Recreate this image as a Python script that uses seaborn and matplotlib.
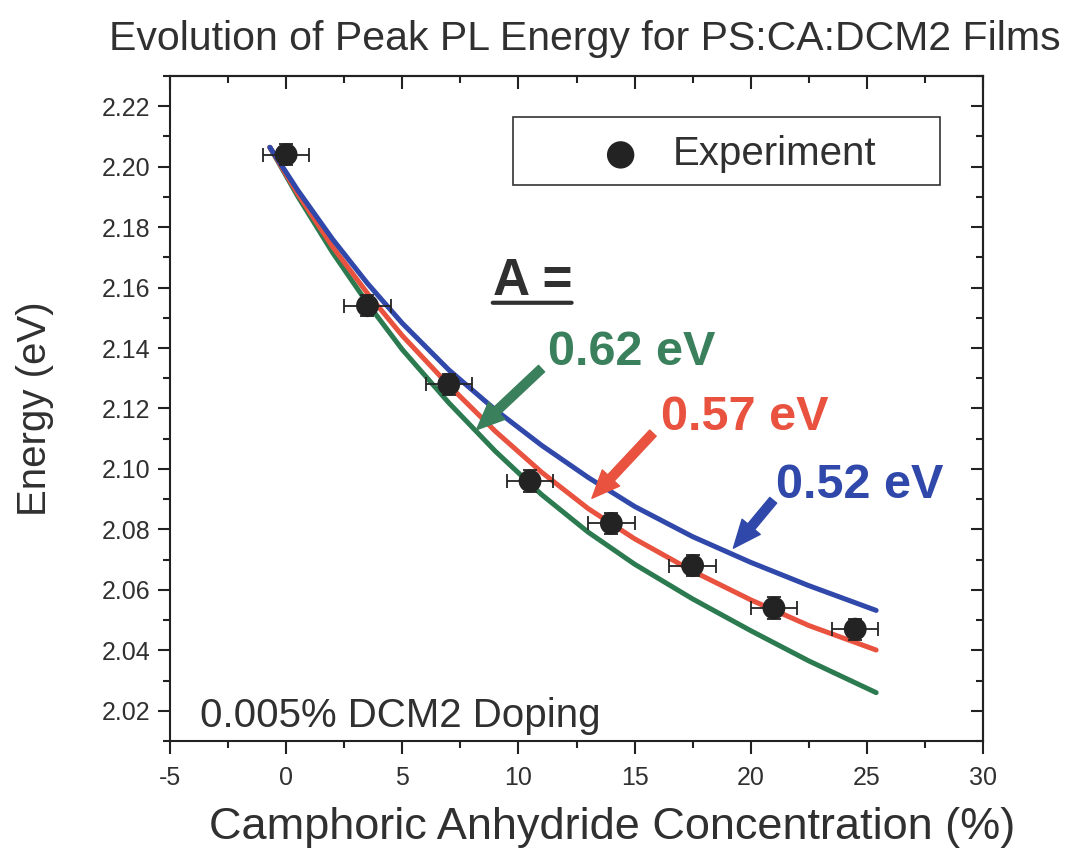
import numpy as np
import pandas as pd
import matplotlib
matplotlib.use("Agg")
import matplotlib.pyplot as plt
import seaborn as sns
from matplotlib.ticker import MultipleLocator, FormatStrFormatter
from matplotlib.patches import Rectangle

# ---------------- data ----------------
conc = [0.0, 3.5, 7.0, 10.5, 14.0, 17.5, 21.0, 24.5]
energy = [2.204, 2.154, 2.128, 2.096, 2.082, 2.068, 2.054, 2.047]
conc_err = [1.0, 1.0, 1.0, 1.0, 1.0, 1.0, 1.0, 1.0]
energy_err = [0.0035, 0.0035, 0.0035, 0.0035, 0.0035, 0.0035, 0.0035, 0.0035]

curve_x = [-0.7, 0.5, 2.0, 3.5, 5.0, 7.0, 9.0, 11.0, 13.0, 15.0, 17.5, 20.0, 22.5, 25.4]
blue_y = [2.2064, 2.1922, 2.1760, 2.1614, 2.1482, 2.1328, 2.1196, 2.1078, 2.0972,
          2.0876, 2.0776, 2.0691, 2.0614, 2.0532]
red_y = [2.2064, 2.1910, 2.1735, 2.1581, 2.1441, 2.1277, 2.1125, 2.0989, 2.0869,
         2.0769, 2.0662, 2.0567, 2.0482, 2.0401]
green_y = [2.2064, 2.1902, 2.1716, 2.1548, 2.1395, 2.1219, 2.1059, 2.0915, 2.0791,
           2.0685, 2.0570, 2.0465, 2.0365, 2.0260]

fit_labels = ["0.62 eV", "0.57 eV", "0.52 eV"]
x_ticks = [-5, 0, 5, 10, 15, 20, 25, 30]
y_ticks = [2.02, 2.04, 2.06, 2.08, 2.10, 2.12, 2.14, 2.16, 2.18, 2.20, 2.22]

C_BLUE = "#2F48AA"
C_RED = "#E8523F"
C_GREEN = "#2C7A50"
C_GREEN_TXT = "#3A805C"
C_PT = "#232323"
C_TXT = "#303030"

# ---------------- style ----------------
sns.set_theme(style="ticks")
plt.rcParams["font.family"] = ["Liberation Sans", "DejaVu Sans"]
plt.rcParams["axes.unicode_minus"] = False
plt.rcParams["axes.linewidth"] = 1.5

fig = plt.figure(figsize=(10.67, 8.52), dpi=100)
ax = fig.add_axes([170 / 1067, 1 - 741 / 852, 813 / 1067, 665 / 852])

curves = pd.concat([
    pd.DataFrame({"x": curve_x, "y": green_y, "A": fit_labels[0]}),
    pd.DataFrame({"x": curve_x, "y": red_y, "A": fit_labels[1]}),
    pd.DataFrame({"x": curve_x, "y": blue_y, "A": fit_labels[2]}),
])
sns.lineplot(data=curves, x="x", y="y", hue="A", estimator=None, sort=False,
             palette={fit_labels[0]: C_GREEN, fit_labels[1]: C_RED, fit_labels[2]: C_BLUE},
             linewidth=3.6, legend=False, ax=ax, zorder=2)

ax.errorbar(conc, energy, xerr=conc_err, yerr=energy_err, fmt="none",
            ecolor=C_PT, elinewidth=1.3, capsize=5, capthick=1.3, zorder=3)
pts = pd.DataFrame({"conc": conc, "energy": energy})
sns.scatterplot(data=pts, x="conc", y="energy", s=270, color=C_PT, edgecolor="none",
                label="Experiment", ax=ax, zorder=4, legend=True)

# ---------------- axes ----------------
ax.set_xlim(-5, 30)
ax.set_ylim(2.01, 2.23)
ax.set_xticks(x_ticks)
ax.set_yticks(y_ticks)
ax.yaxis.set_major_formatter(FormatStrFormatter("%.2f"))
ax.xaxis.set_minor_locator(MultipleLocator(2.5))
ax.yaxis.set_minor_locator(MultipleLocator(0.01))
ax.tick_params(which="major", direction="out", length=9, width=1.5, labelsize=18,
               color="#222222", labelcolor=C_TXT)
ax.tick_params(axis="y", which="major", pad=5)
ax.tick_params(axis="x", which="major", pad=9)
ax.tick_params(which="minor", direction="out", length=5, width=1.5, color="#222222")
for sp in ax.spines.values():
    sp.set_visible(True)
    sp.set_color("#222222")
    sp.set_linewidth(1.5)

secx = ax.secondary_xaxis("top")
secx.set_xticks(x_ticks)
secx.xaxis.set_minor_locator(MultipleLocator(2.5))
secx.tick_params(which="major", direction="in", length=9, width=1.5, labeltop=False, color="#222222")
secx.tick_params(which="minor", direction="in", length=5, width=1.5, color="#222222")
secy = ax.secondary_yaxis("right")
secy.set_yticks(y_ticks)
secy.yaxis.set_minor_locator(MultipleLocator(0.01))
secy.tick_params(which="major", direction="in", length=9, width=1.5, labelright=False, color="#222222")
secy.tick_params(which="minor", direction="in", length=5, width=1.5, color="#222222")

ax.set_xlabel("Camphoric Anhydride Concentration (%)", fontsize=32.5, color=C_TXT)
ax.set_ylabel("Energy (eV)", fontsize=29, color=C_TXT)
ax.xaxis.set_label_coords(0.544, -0.1)
ax.yaxis.set_label_coords(-0.143, 0.5)

fig.text(0.548, 1 - 50 / 852, "Evolution of Peak PL Energy for PS:CA:DCM2 Films",
         ha="center", va="baseline", fontsize=29.5, color=C_TXT)

# ---------------- legend ----------------
ax.add_patch(Rectangle((0.422, 0.836), 0.525, 0.102, transform=ax.transAxes,
                       fill=False, edgecolor="#333333", linewidth=1.2, zorder=5))
handles, labels = ax.get_legend_handles_labels()
ax.legend(handles, labels, loc="center left", bbox_to_anchor=(0.532, 0.882),
          frameon=False, fontsize=29, handlelength=0.9, handletextpad=0.85,
          borderpad=0, borderaxespad=0, markerscale=1.2, labelcolor=C_TXT)

# ---------------- annotations ----------------
ax.text(0.037, 0.021, "0.005% DCM2 Doping", transform=ax.transAxes, fontsize=29,
        ha="left", va="baseline", color=C_TXT)
ax.text(0.397, 0.671, "A =", transform=ax.transAxes, fontsize=37, fontweight="bold",
        ha="left", va="baseline", color=C_TXT)
ax.annotate("", xy=(0.397, 0.659), xytext=(0.494, 0.659), xycoords="axes fraction",
            arrowprops=dict(arrowstyle="-", lw=3.0, color=C_TXT, shrinkA=0, shrinkB=0))

label_pos = [(0.465, 0.565), (0.604, 0.467), (0.746, 0.365)]
label_col = [C_GREEN_TXT, C_RED, C_BLUE]
arrow_tail = [(0.457, 0.560), (0.594, 0.463), (0.742, 0.362)]
arrow_tip = [(0.377, 0.468), (0.519, 0.365), (0.693, 0.290)]
for lab, pos, col, t0, t1 in zip(fit_labels, label_pos, label_col, arrow_tail, arrow_tip):
    ax.text(pos[0], pos[1], lab, transform=ax.transAxes, fontsize=35, fontweight="bold",
            ha="left", va="baseline", color=col)
    ax.annotate("", xy=t1, xytext=t0, xycoords="axes fraction",
                arrowprops=dict(arrowstyle="simple,head_length=1.0,head_width=0.85,tail_width=0.32",
                                color=col, shrinkA=0, shrinkB=0, mutation_scale=20))

fig.savefig("out.png", dpi=100, facecolor="white")
